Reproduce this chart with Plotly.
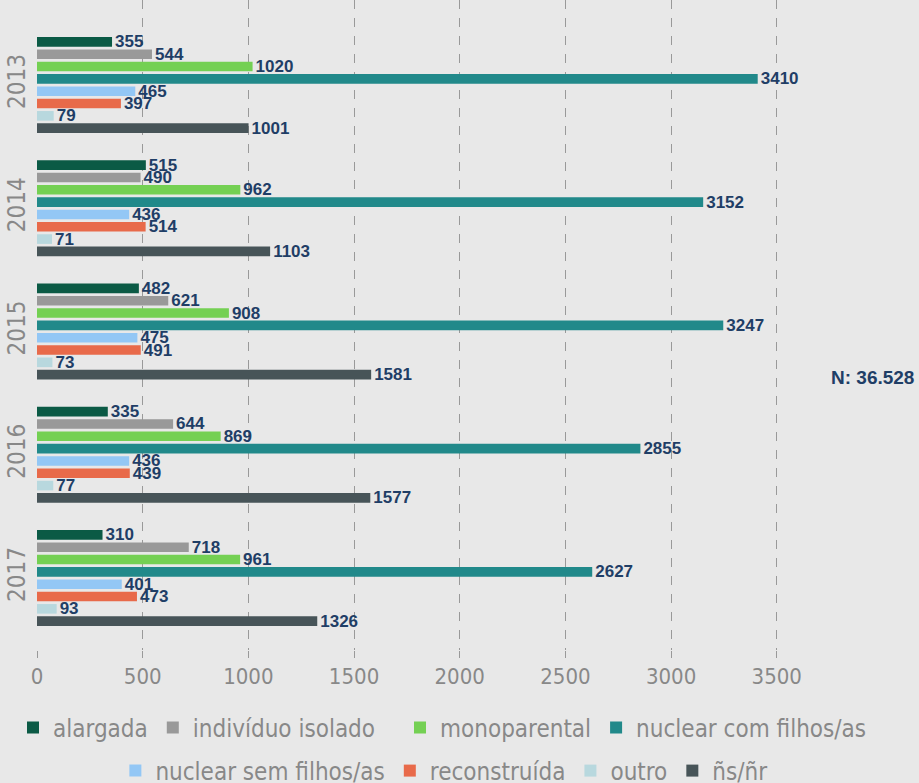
import plotly.graph_objects as go

years = ["2013", "2014", "2015", "2016", "2017"]
series_names = ["alargada", "indivíduo isolado", "monoparental", "nuclear com filhos/as",
                "nuclear sem filhos/as", "reconstruída", "outro", "ñs/ñr"]
alargada = [355, 515, 482, 335, 310]
individuo_isolado = [544, 490, 621, 644, 718]
monoparental = [1020, 962, 908, 869, 961]
nuclear_com = [3410, 3152, 3247, 2855, 2627]
nuclear_sem = [465, 436, 475, 436, 401]
reconstruida = [397, 514, 491, 439, 473]
outro = [79, 71, 73, 77, 93]
ns_nr = [1001, 1103, 1581, 1577, 1326]
x_ticks = [0, 500, 1000, 1500, 2000, 2500, 3000, 3500]
total_label = "N: 36.528"

values = [alargada, individuo_isolado, monoparental, nuclear_com, nuclear_sem, reconstruida, outro, ns_nr]
colors = ["#0b5a45", "#999999", "#74d053", "#21898a", "#93c7f5", "#e86a4a", "#b8d8de", "#475458"]
legend_ids = ["legend", "legend", "legend3", "legend3", "legend2", "legend2", "legend2", "legend2"]

fig = go.Figure()
for name, vals, col, lg in zip(series_names, values, colors, legend_ids):
    fig.add_trace(go.Bar(
        y=years, x=vals, name=name, orientation="h",
        marker=dict(color=col, line=dict(width=0)),
        text=[str(v) for v in vals], textposition="outside",
        textfont=dict(family="Liberation Sans, Arial, sans-serif", size=17, color="#1f3e66"),
        texttemplate="<b>%{text}</b>",
        constraintext="none", cliponaxis=False,
        legend=lg,
    ))

W, H = 919, 783
L, R, T, B = 37, 100, 0, 133
legend_font = dict(family="DejaVu Sans Condensed, Liberation Sans, sans-serif", size=24, color="#888888")
fig.update_layout(
    width=W, height=H,
    margin=dict(l=L, r=R, t=T, b=B),
    paper_bgcolor="#e8e8e8", plot_bgcolor="#e8e8e8",
    barmode="group", bargap=0.2, bargroupgap=0.22,
    font=dict(family="DejaVu Sans Condensed, Liberation Sans, sans-serif", color="#888888"),
    xaxis=dict(range=[0, 3700], tickvals=x_ticks, showgrid=True, gridcolor="#999999",
               griddash="dash", gridwidth=1, zeroline=False, showline=False,
               ticks="outside", ticklen=7, tickcolor="#999999",
               tickfont=dict(size=22, color="#888888")),
    yaxis=dict(categoryorder="array", categoryarray=years, range=[4.584, -0.69],
               showgrid=False, zeroline=False, showline=False, tickangle=-90,
               tickfont=dict(size=24, color="#888888"), ticklabelstandoff=6),
    legend=dict(orientation="h", xref="container", yref="container", x=13 / W, xanchor="left",
                y=1 - 728 / H, yanchor="middle", font=legend_font, traceorder="normal"),
    legend3=dict(orientation="h", xref="container", yref="container", x=400 / W, xanchor="left",
                 y=1 - 728 / H, yanchor="middle", font=legend_font, traceorder="normal"),
    legend2=dict(orientation="h", xref="container", yref="container", x=0.483, xanchor="center",
                 y=1 - 771 / H, yanchor="middle", font=legend_font, traceorder="normal"),
    showlegend=True,
)
fig.add_annotation(text="<b>" + total_label + "</b>", xref="paper", yref="paper",
                   x=(916 - L) / (W - L - R), y=1 - 377 / (H - B), xanchor="right", yanchor="middle",
                   showarrow=False, font=dict(family="Liberation Sans, Arial, sans-serif", size=19, color="#1f3e66"))
fig.write_html("out.html", config={"displayModeBar": False},
               post_script="document.body.style.margin='0';document.body.style.padding='0';")
